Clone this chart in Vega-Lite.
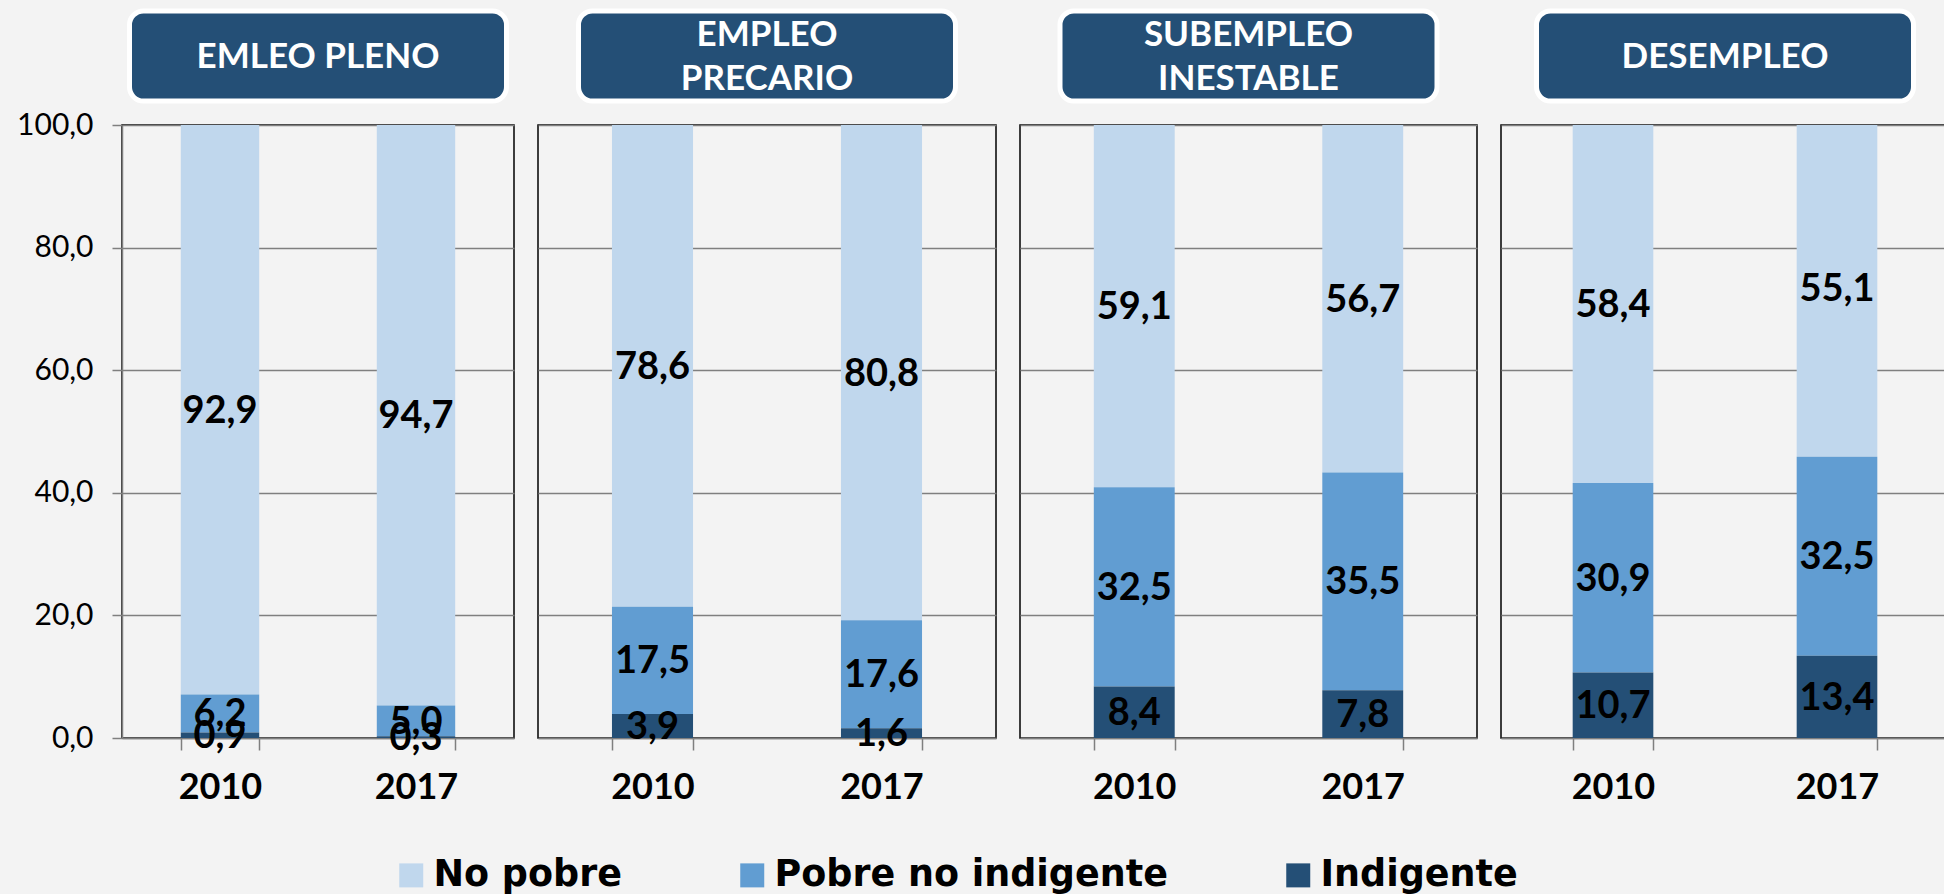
{
  "$schema": "https://vega.github.io/schema/vega-lite/v6.json",
  "background": "#f3f3f3",
  "padding": {"left": 15, "top": 8, "right": 0, "bottom": 0},
  "datasets": {
    "pobreza": [
      {"panel": "EMLEO PLENO", "year": "2010", "cat": "No pobre", "ord": 3, "value": 92.9},
      {"panel": "EMLEO PLENO", "year": "2010", "cat": "Pobre no indigente", "ord": 2, "value": 6.2},
      {"panel": "EMLEO PLENO", "year": "2010", "cat": "Indigente", "ord": 1, "value": 0.9},
      {"panel": "EMLEO PLENO", "year": "2017", "cat": "No pobre", "ord": 3, "value": 94.7},
      {"panel": "EMLEO PLENO", "year": "2017", "cat": "Pobre no indigente", "ord": 2, "value": 5.0},
      {"panel": "EMLEO PLENO", "year": "2017", "cat": "Indigente", "ord": 1, "value": 0.3},
      {"panel": "EMPLEO PRECARIO", "year": "2010", "cat": "No pobre", "ord": 3, "value": 78.6},
      {"panel": "EMPLEO PRECARIO", "year": "2010", "cat": "Pobre no indigente", "ord": 2, "value": 17.5},
      {"panel": "EMPLEO PRECARIO", "year": "2010", "cat": "Indigente", "ord": 1, "value": 3.9},
      {"panel": "EMPLEO PRECARIO", "year": "2017", "cat": "No pobre", "ord": 3, "value": 80.8},
      {"panel": "EMPLEO PRECARIO", "year": "2017", "cat": "Pobre no indigente", "ord": 2, "value": 17.6},
      {"panel": "EMPLEO PRECARIO", "year": "2017", "cat": "Indigente", "ord": 1, "value": 1.6},
      {"panel": "SUBEMPLEO INESTABLE", "year": "2010", "cat": "No pobre", "ord": 3, "value": 59.1},
      {"panel": "SUBEMPLEO INESTABLE", "year": "2010", "cat": "Pobre no indigente", "ord": 2, "value": 32.5},
      {"panel": "SUBEMPLEO INESTABLE", "year": "2010", "cat": "Indigente", "ord": 1, "value": 8.4},
      {"panel": "SUBEMPLEO INESTABLE", "year": "2017", "cat": "No pobre", "ord": 3, "value": 56.7},
      {"panel": "SUBEMPLEO INESTABLE", "year": "2017", "cat": "Pobre no indigente", "ord": 2, "value": 35.5},
      {"panel": "SUBEMPLEO INESTABLE", "year": "2017", "cat": "Indigente", "ord": 1, "value": 7.8},
      {"panel": "DESEMPLEO", "year": "2010", "cat": "No pobre", "ord": 3, "value": 58.4},
      {"panel": "DESEMPLEO", "year": "2010", "cat": "Pobre no indigente", "ord": 2, "value": 30.9},
      {"panel": "DESEMPLEO", "year": "2010", "cat": "Indigente", "ord": 1, "value": 10.7},
      {"panel": "DESEMPLEO", "year": "2017", "cat": "No pobre", "ord": 3, "value": 55.1},
      {"panel": "DESEMPLEO", "year": "2017", "cat": "Pobre no indigente", "ord": 2, "value": 32.5},
      {"panel": "DESEMPLEO", "year": "2017", "cat": "Indigente", "ord": 1, "value": 13.4}
    ]
  },
  "spacing": 22,
  "hconcat": [
    {
      "vconcat": [
        {
          "width": 377, "height": 90,
          "data": {"values": [{"titulo": "EMLEO PLENO"}]},
          "view": {"fill": "#244f76", "stroke": "white", "strokeWidth": 5, "cornerRadius": 14},
          "mark": {"type": "text", "color": "white", "font": "Lato", "fontWeight": "bold", "fontSize": 35, "lineBreak": "\n", "lineHeight": 44, "align": "center", "baseline": "middle", "dy": 1},
          "encoding": {"text": {"field": "titulo", "type": "nominal"}}
        },
        {
          "width": 392, "height": 613,
          "data": {"name": "pobreza"},
          "transform": [
            {"filter": "datum.panel === 'EMLEO PLENO'"},
            {"stack": "value", "groupby": ["year"], "sort": [{"field": "ord", "order": "ascending"}], "as": ["v0", "v1"]},
            {"calculate": "(datum.v0 + datum.v1) / 2", "as": "mid"}
          ],
          "encoding": {
            "x": {"field": "year", "type": "nominal", "scale": {"paddingInner": 0.6, "paddingOuter": 0.3},
                  "axis": {"labelAngle": 0, "labelFont": "Lato", "labelFontWeight": "bold", "labelFontSize": 36, "tickSize": 12, "tickBand": "extent", "labelPadding": 20, "title": null}}
          },
          "layer": [
            {
              "mark": {"type": "bar"},
              "encoding": {
                "y": {"field": "v0", "type": "quantitative", "scale": {"domain": [0, 100], "clamp": true},
                      "axis": {"values": [0, 20, 40, 60, 80, 100], "format": ".1f", "labelFont": "Lato", "labelFontSize": 30, "tickSize": 10, "labelPadding": 19, "grid": true, "title": null}},
                "y2": {"field": "v1"},
                "color": {"field": "cat", "type": "nominal",
                          "scale": {"domain": ["No pobre", "Pobre no indigente", "Indigente"], "range": ["#c0d7ed", "#619dd2", "#244f76"]},
                          "legend": {"orient": "none", "legendX": 271, "legendY": 846, "direction": "horizontal", "title": null, "symbolType": "square", "symbolSize": 576, "symbolStrokeWidth": 0, "symbolOpacity": 1, "labelFont": "DejaVu Sans", "labelFontWeight": "bold", "labelFontSize": 36.5, "labelColor": "black", "labelOffset": 4, "labelLimit": 1000, "columnPadding": 112, "padding": 0}}
              }
            },
            {
              "mark": {"type": "text", "font": "Lato", "fontWeight": "bold", "fontSize": 38, "color": "black", "baseline": "middle", "align": "center", "dy": 2},
              "encoding": {
                "y": {"field": "mid", "type": "quantitative"},
                "text": {"field": "value", "type": "quantitative", "format": ".1f"}
              }
            }
          ]
        }
      ],
      "spacing": 24, "center": true, "bounds": "flush"
    },
    {
      "vconcat": [
        {
          "width": 377, "height": 90,
          "data": {"values": [{"titulo": "EMPLEO\nPRECARIO"}]},
          "view": {"fill": "#244f76", "stroke": "white", "strokeWidth": 5, "cornerRadius": 14},
          "mark": {"type": "text", "color": "white", "font": "Lato", "fontWeight": "bold", "fontSize": 35, "lineBreak": "\n", "lineHeight": 44, "align": "center", "baseline": "middle", "dy": -21},
          "encoding": {"text": {"field": "titulo", "type": "nominal"}}
        },
        {
          "width": 458, "height": 613,
          "data": {"name": "pobreza"},
          "transform": [
            {"filter": "datum.panel === 'EMPLEO PRECARIO'"},
            {"stack": "value", "groupby": ["year"], "sort": [{"field": "ord", "order": "ascending"}], "as": ["v0", "v1"]},
            {"calculate": "(datum.v0 + datum.v1) / 2", "as": "mid"}
          ],
          "encoding": {
            "x": {"field": "year", "type": "nominal", "scale": {"paddingInner": 0.646, "paddingOuter": 0.323},
                  "axis": {"labelAngle": 0, "labelFont": "Lato", "labelFontWeight": "bold", "labelFontSize": 36, "tickSize": 12, "tickBand": "extent", "labelPadding": 20, "title": null}}
          },
          "layer": [
            {
              "mark": {"type": "bar"},
              "encoding": {
                "y": {"field": "v0", "type": "quantitative", "scale": {"domain": [0, 100], "clamp": true},
                      "axis": {"values": [0, 20, 40, 60, 80, 100], "labels": false, "ticks": false, "domain": false, "grid": true, "title": null}},
                "y2": {"field": "v1"},
                "color": {"field": "cat", "type": "nominal",
                          "scale": {"domain": ["No pobre", "Pobre no indigente", "Indigente"], "range": ["#c0d7ed", "#619dd2", "#244f76"]},
                          "legend": {"orient": "none", "legendX": 271, "legendY": 846, "direction": "horizontal", "title": null, "symbolType": "square", "symbolSize": 576, "symbolStrokeWidth": 0, "symbolOpacity": 1, "labelFont": "DejaVu Sans", "labelFontWeight": "bold", "labelFontSize": 36.5, "labelColor": "black", "labelOffset": 4, "labelLimit": 1000, "columnPadding": 112, "padding": 0}}
              }
            },
            {
              "mark": {"type": "text", "font": "Lato", "fontWeight": "bold", "fontSize": 38, "color": "black", "baseline": "middle", "align": "center", "dy": 2},
              "encoding": {
                "y": {"field": "mid", "type": "quantitative"},
                "text": {"field": "value", "type": "quantitative", "format": ".1f"}
              }
            }
          ]
        }
      ],
      "spacing": 24, "center": true, "bounds": "flush"
    },
    {
      "vconcat": [
        {
          "width": 377, "height": 90,
          "data": {"values": [{"titulo": "SUBEMPLEO\nINESTABLE"}]},
          "view": {"fill": "#244f76", "stroke": "white", "strokeWidth": 5, "cornerRadius": 14},
          "mark": {"type": "text", "color": "white", "font": "Lato", "fontWeight": "bold", "fontSize": 35, "lineBreak": "\n", "lineHeight": 44, "align": "center", "baseline": "middle", "dy": -21},
          "encoding": {"text": {"field": "titulo", "type": "nominal"}}
        },
        {
          "width": 457, "height": 613,
          "data": {"name": "pobreza"},
          "transform": [
            {"filter": "datum.panel === 'SUBEMPLEO INESTABLE'"},
            {"stack": "value", "groupby": ["year"], "sort": [{"field": "ord", "order": "ascending"}], "as": ["v0", "v1"]},
            {"calculate": "(datum.v0 + datum.v1) / 2", "as": "mid"}
          ],
          "encoding": {
            "x": {"field": "year", "type": "nominal", "scale": {"paddingInner": 0.646, "paddingOuter": 0.323},
                  "axis": {"labelAngle": 0, "labelFont": "Lato", "labelFontWeight": "bold", "labelFontSize": 36, "tickSize": 12, "tickBand": "extent", "labelPadding": 20, "title": null}}
          },
          "layer": [
            {
              "mark": {"type": "bar"},
              "encoding": {
                "y": {"field": "v0", "type": "quantitative", "scale": {"domain": [0, 100], "clamp": true},
                      "axis": {"values": [0, 20, 40, 60, 80, 100], "labels": false, "ticks": false, "domain": false, "grid": true, "title": null}},
                "y2": {"field": "v1"},
                "color": {"field": "cat", "type": "nominal",
                          "scale": {"domain": ["No pobre", "Pobre no indigente", "Indigente"], "range": ["#c0d7ed", "#619dd2", "#244f76"]},
                          "legend": {"orient": "none", "legendX": 271, "legendY": 846, "direction": "horizontal", "title": null, "symbolType": "square", "symbolSize": 576, "symbolStrokeWidth": 0, "symbolOpacity": 1, "labelFont": "DejaVu Sans", "labelFontWeight": "bold", "labelFontSize": 36.5, "labelColor": "black", "labelOffset": 4, "labelLimit": 1000, "columnPadding": 112, "padding": 0}}
              }
            },
            {
              "mark": {"type": "text", "font": "Lato", "fontWeight": "bold", "fontSize": 38, "color": "black", "baseline": "middle", "align": "center", "dy": 2},
              "encoding": {
                "y": {"field": "mid", "type": "quantitative"},
                "text": {"field": "value", "type": "quantitative", "format": ".1f"}
              }
            }
          ]
        }
      ],
      "spacing": 24, "center": true, "bounds": "flush"
    },
    {
      "vconcat": [
        {
          "width": 377, "height": 90,
          "data": {"values": [{"titulo": "DESEMPLEO"}]},
          "view": {"fill": "#244f76", "stroke": "white", "strokeWidth": 5, "cornerRadius": 14},
          "mark": {"type": "text", "color": "white", "font": "Lato", "fontWeight": "bold", "fontSize": 35, "lineBreak": "\n", "lineHeight": 44, "align": "center", "baseline": "middle", "dy": 1},
          "encoding": {"text": {"field": "titulo", "type": "nominal"}}
        },
        {
          "width": 448, "height": 613,
          "data": {"name": "pobreza"},
          "transform": [
            {"filter": "datum.panel === 'DESEMPLEO'"},
            {"stack": "value", "groupby": ["year"], "sort": [{"field": "ord", "order": "ascending"}], "as": ["v0", "v1"]},
            {"calculate": "(datum.v0 + datum.v1) / 2", "as": "mid"}
          ],
          "encoding": {
            "x": {"field": "year", "type": "nominal", "scale": {"paddingInner": 0.64, "paddingOuter": 0.32},
                  "axis": {"labelAngle": 0, "labelFont": "Lato", "labelFontWeight": "bold", "labelFontSize": 36, "tickSize": 12, "tickBand": "extent", "labelPadding": 20, "title": null}}
          },
          "layer": [
            {
              "mark": {"type": "bar"},
              "encoding": {
                "y": {"field": "v0", "type": "quantitative", "scale": {"domain": [0, 100], "clamp": true},
                      "axis": {"values": [0, 20, 40, 60, 80, 100], "labels": false, "ticks": false, "domain": false, "grid": true, "title": null}},
                "y2": {"field": "v1"},
                "color": {"field": "cat", "type": "nominal",
                          "scale": {"domain": ["No pobre", "Pobre no indigente", "Indigente"], "range": ["#c0d7ed", "#619dd2", "#244f76"]},
                          "legend": {"orient": "none", "legendX": 271, "legendY": 846, "direction": "horizontal", "title": null, "symbolType": "square", "symbolSize": 576, "symbolStrokeWidth": 0, "symbolOpacity": 1, "labelFont": "DejaVu Sans", "labelFontWeight": "bold", "labelFontSize": 36.5, "labelColor": "black", "labelOffset": 4, "labelLimit": 1000, "columnPadding": 112, "padding": 0}}
              }
            },
            {
              "mark": {"type": "text", "font": "Lato", "fontWeight": "bold", "fontSize": 38, "color": "black", "baseline": "middle", "align": "center", "dy": 2},
              "encoding": {
                "y": {"field": "mid", "type": "quantitative"},
                "text": {"field": "value", "type": "quantitative", "format": ".1f"}
              }
            }
          ]
        }
      ],
      "spacing": 24, "center": true, "bounds": "flush"
    }
  ],
  "config": {
    "view": {"stroke": "black", "strokeWidth": 1.5},
    "axis": {"domainColor": "#7f7f7f", "domainWidth": 1.5, "tickColor": "#7f7f7f", "tickWidth": 1.5, "gridColor": "#7f7f7f", "gridWidth": 1.5, "labelColor": "black"},
    "locale": {"number": {"decimal": ",", "thousands": ".", "grouping": [3], "currency": ["", " €"]}}
  }
}
